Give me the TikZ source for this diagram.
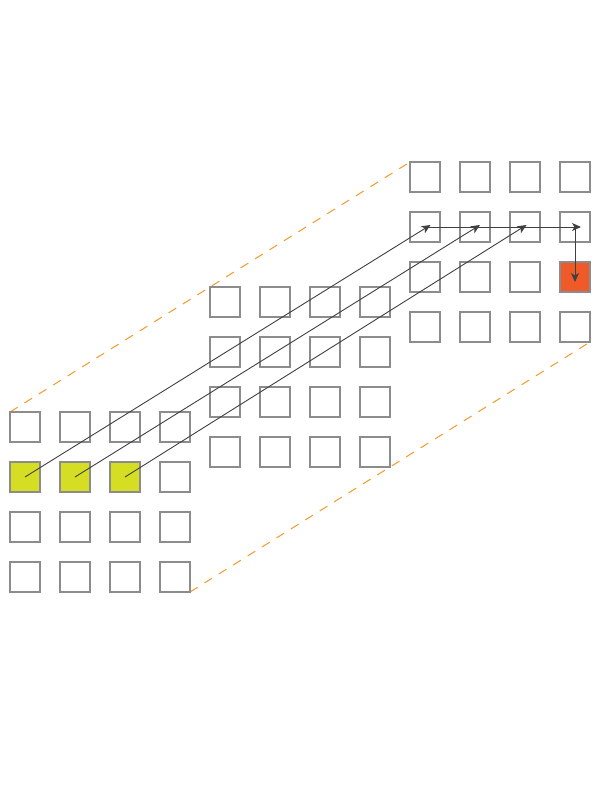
\documentclass[tikz,border=0pt]{standalone}
\usetikzlibrary{arrows.meta}
\definecolor{cellgray}{HTML}{8C8C8C}
\definecolor{arrowgray}{HTML}{404040}
\definecolor{dashorange}{HTML}{F59A2A}
\definecolor{yellowfill}{HTML}{D5DE22}
\definecolor{redfill}{HTML}{F05A28}
\begin{document}
\begin{tikzpicture}[x={(1bp,0)},y={(0,-1bp)},
  cell/.style={draw=cellgray,line width=1.3bp,minimum size=30bp,inner sep=0pt,fill=white},
  hotin/.style={cell,fill=yellowfill},
  hotout/.style={cell,fill=redfill},
  guide/.style={draw=dashorange,line width=1bp,dash pattern=on 9bp off 8bp},
  conn/.style={draw=arrowgray,line width=0.9bp,-{Stealth[length=9bp,width=8bp,inset=2.5bp]}}]
\useasboundingbox (0,0) rectangle (612,792);
% guides
\coordinate (g1a) at (10,412);
\coordinate (g1b) at (410,162);
\coordinate (g2a) at (190,592);
\coordinate (g2b) at (590,342);
\draw[guide] (g1a) -- (g1b);
\draw[guide] (g2a) -- (g2b);
% layers
\foreach \L/\ox/\oy in {1/25/427,2/225/302,3/425/177}{
  \foreach \r in {1,...,4}{
    \foreach \c in {1,...,4}{
      \node[cell] (L\L-\r-\c) at ({\ox+50*(\c-1)},{\oy+50*(\r-1)}) {};
    }
  }
}
\node[hotin] at (L1-2-1) {};
\node[hotin] at (L1-2-2) {};
\node[hotin] at (L1-2-3) {};
\node[hotout] at (L3-3-4) {};
% arrow endpoints
\coordinate (t1) at (430.5,225);
\coordinate (t2) at (480,225);
\coordinate (t3) at (526.5,225);
\coordinate (h0) at (425,227);
\coordinate (h1) at (581,227);
\coordinate (v0) at (575,227);
\coordinate (v1) at (575,282);
\draw[conn] (L1-2-1.center) -- (t1);
\draw[conn] (L1-2-2.center) -- (t2);
\draw[conn] (L1-2-3.center) -- (t3);
\draw[conn] (h0) -- (h1);
\draw[conn] (v0) -- (v1);
\end{tikzpicture}
\end{document}
